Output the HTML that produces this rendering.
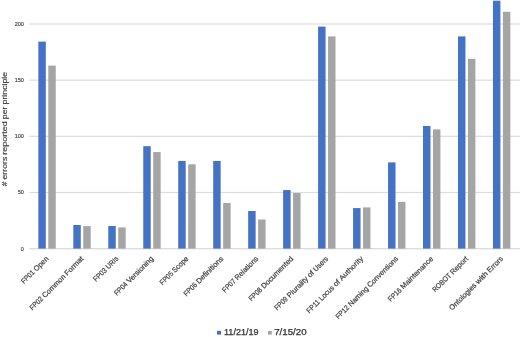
<!DOCTYPE html>
<html lang="en"><head><meta charset="utf-8"><title>Errors reported per principle</title>
<style>html,body{margin:0;padding:0;background:#fff}body{width:520px;height:337px;overflow:hidden}svg{display:block;filter:blur(0.3px)}</style></head>
<body>
<svg width="520" height="337" viewBox="0 0 520 337" font-family="'Liberation Sans', Arial, sans-serif">
<rect width="520" height="337" fill="#fff"/>
<rect x="29.5" y="191.89" width="490.5" height="1.2" fill="#dcdcdc"/>
<rect x="29.5" y="135.72" width="490.5" height="1.2" fill="#dcdcdc"/>
<rect x="29.5" y="79.56" width="490.5" height="1.2" fill="#dcdcdc"/>
<rect x="29.5" y="23.39" width="490.5" height="1.2" fill="#dcdcdc"/>
<rect x="29.5" y="248.20" width="490.5" height="1.1" fill="#d4d4d4"/>
<rect x="38.35" y="41.60" width="7.45" height="207.00" fill="#4472c4"/>
<rect x="48.30" y="65.60" width="7.45" height="183.00" fill="#a5a5a5"/>
<rect x="73.32" y="225.00" width="7.45" height="23.60" fill="#4472c4"/>
<rect x="83.27" y="226.10" width="7.45" height="22.50" fill="#a5a5a5"/>
<rect x="108.29" y="226.00" width="7.45" height="22.60" fill="#4472c4"/>
<rect x="118.24" y="227.40" width="7.45" height="21.20" fill="#a5a5a5"/>
<rect x="143.26" y="146.20" width="7.45" height="102.40" fill="#4472c4"/>
<rect x="153.21" y="152.10" width="7.45" height="96.50" fill="#a5a5a5"/>
<rect x="178.23" y="160.95" width="7.45" height="87.65" fill="#4472c4"/>
<rect x="188.18" y="164.30" width="7.45" height="84.30" fill="#a5a5a5"/>
<rect x="213.20" y="160.95" width="7.45" height="87.65" fill="#4472c4"/>
<rect x="223.15" y="203.00" width="7.45" height="45.60" fill="#a5a5a5"/>
<rect x="248.17" y="211.00" width="7.45" height="37.60" fill="#4472c4"/>
<rect x="258.12" y="219.50" width="7.45" height="29.10" fill="#a5a5a5"/>
<rect x="283.14" y="190.06" width="7.45" height="58.54" fill="#4472c4"/>
<rect x="293.09" y="193.00" width="7.45" height="55.60" fill="#a5a5a5"/>
<rect x="318.11" y="26.60" width="7.45" height="222.00" fill="#4472c4"/>
<rect x="328.06" y="36.40" width="7.45" height="212.20" fill="#a5a5a5"/>
<rect x="353.08" y="208.10" width="7.45" height="40.50" fill="#4472c4"/>
<rect x="363.03" y="207.40" width="7.45" height="41.20" fill="#a5a5a5"/>
<rect x="388.05" y="162.40" width="7.45" height="86.20" fill="#4472c4"/>
<rect x="398.00" y="201.85" width="7.45" height="46.75" fill="#a5a5a5"/>
<rect x="423.02" y="126.00" width="7.45" height="122.60" fill="#4472c4"/>
<rect x="432.97" y="129.40" width="7.45" height="119.20" fill="#a5a5a5"/>
<rect x="457.99" y="36.40" width="7.45" height="212.20" fill="#4472c4"/>
<rect x="467.94" y="58.80" width="7.45" height="189.80" fill="#a5a5a5"/>
<rect x="492.96" y="0.70" width="7.45" height="247.90" fill="#4472c4"/>
<rect x="502.91" y="11.80" width="7.45" height="236.80" fill="#a5a5a5"/>
<text x="20.86" y="250.60" font-size="5.4" textLength="3.04" lengthAdjust="spacingAndGlyphs" fill="#3c3c3c" stroke="#3c3c3c" stroke-width="0.15">0</text>
<text x="17.82" y="194.44" font-size="5.4" textLength="6.08" lengthAdjust="spacingAndGlyphs" fill="#3c3c3c" stroke="#3c3c3c" stroke-width="0.15">50</text>
<text x="14.77" y="138.27" font-size="5.4" textLength="9.13" lengthAdjust="spacingAndGlyphs" fill="#3c3c3c" stroke="#3c3c3c" stroke-width="0.15">100</text>
<text x="14.77" y="82.11" font-size="5.4" textLength="9.13" lengthAdjust="spacingAndGlyphs" fill="#3c3c3c" stroke="#3c3c3c" stroke-width="0.15">150</text>
<text x="14.77" y="25.94" font-size="5.4" textLength="9.13" lengthAdjust="spacingAndGlyphs" fill="#3c3c3c" stroke="#3c3c3c" stroke-width="0.15">200</text>
<text transform="translate(7.35,186.20) rotate(-90)" font-size="7.7" fill="#3c3c3c" stroke="#3c3c3c" stroke-width="0.15"><tspan x="0.00" textLength="4.60" lengthAdjust="spacingAndGlyphs">#</tspan> <tspan x="6.69" textLength="22.77" lengthAdjust="spacingAndGlyphs">errors</tspan> <tspan x="31.55" textLength="33.34" lengthAdjust="spacingAndGlyphs">reported</tspan> <tspan x="66.98" textLength="12.68" lengthAdjust="spacingAndGlyphs">per</tspan> <tspan x="81.75" textLength="32.65" lengthAdjust="spacingAndGlyphs">principle</tspan></text>
<text transform="translate(23.96,284.24) rotate(-45)" font-size="7.4" fill="#3c3c3c" stroke="#3c3c3c" stroke-width="0.2"><tspan x="0.00" textLength="15.92" lengthAdjust="spacingAndGlyphs">FP01</tspan> <tspan x="17.73" textLength="17.68" lengthAdjust="spacingAndGlyphs">Open</tspan></text>
<text transform="translate(32.49,310.68) rotate(-45)" font-size="7.4" fill="#3c3c3c" stroke="#3c3c3c" stroke-width="0.2"><tspan x="0.00" textLength="15.92" lengthAdjust="spacingAndGlyphs">FP02</tspan> <tspan x="17.73" textLength="29.68" lengthAdjust="spacingAndGlyphs">Common</tspan> <tspan x="49.22" textLength="23.58" lengthAdjust="spacingAndGlyphs">Format</tspan></text>
<text transform="translate(96.06,282.08) rotate(-45)" font-size="7.4" fill="#3c3c3c" stroke="#3c3c3c" stroke-width="0.2"><tspan x="0.00" textLength="15.92" lengthAdjust="spacingAndGlyphs">FP03</tspan> <tspan x="17.73" textLength="14.62" lengthAdjust="spacingAndGlyphs">URIs</tspan></text>
<text transform="translate(116.99,296.12) rotate(-45)" font-size="7.4" fill="#3c3c3c" stroke="#3c3c3c" stroke-width="0.2"><tspan x="0.00" textLength="15.92" lengthAdjust="spacingAndGlyphs">FP04</tspan> <tspan x="17.73" textLength="34.49" lengthAdjust="spacingAndGlyphs">Versioning</tspan></text>
<text transform="translate(162.59,285.49) rotate(-45)" font-size="7.4" fill="#3c3c3c" stroke="#3c3c3c" stroke-width="0.2"><tspan x="0.00" textLength="15.92" lengthAdjust="spacingAndGlyphs">FP05</tspan> <tspan x="17.73" textLength="19.46" lengthAdjust="spacingAndGlyphs">Scope</tspan></text>
<text transform="translate(186.38,296.67) rotate(-45)" font-size="7.4" fill="#3c3c3c" stroke="#3c3c3c" stroke-width="0.2"><tspan x="0.00" textLength="15.92" lengthAdjust="spacingAndGlyphs">FP06</tspan> <tspan x="17.73" textLength="35.26" lengthAdjust="spacingAndGlyphs">Definitions</tspan></text>
<text transform="translate(225.04,292.98) rotate(-45)" font-size="7.4" fill="#3c3c3c" stroke="#3c3c3c" stroke-width="0.2"><tspan x="0.00" textLength="15.92" lengthAdjust="spacingAndGlyphs">FP07</tspan> <tspan x="17.73" textLength="30.05" lengthAdjust="spacingAndGlyphs">Relations</tspan></text>
<text transform="translate(251.44,301.55) rotate(-45)" font-size="7.4" fill="#3c3c3c" stroke="#3c3c3c" stroke-width="0.2"><tspan x="0.00" textLength="15.92" lengthAdjust="spacingAndGlyphs">FP08</tspan> <tspan x="17.73" textLength="42.16" lengthAdjust="spacingAndGlyphs">Documented</tspan></text>
<text transform="translate(277.19,310.77) rotate(-45)" font-size="7.4" fill="#3c3c3c" stroke="#3c3c3c" stroke-width="0.2"><tspan x="0.00" textLength="15.92" lengthAdjust="spacingAndGlyphs">FP09</tspan> <tspan x="17.73" textLength="26.76" lengthAdjust="spacingAndGlyphs">Plurality</tspan> <tspan x="46.30" textLength="6.66" lengthAdjust="spacingAndGlyphs">of</tspan> <tspan x="54.76" textLength="18.17" lengthAdjust="spacingAndGlyphs">Users</tspan></text>
<text transform="translate(309.18,313.75) rotate(-45)" font-size="7.4" fill="#3c3c3c" stroke="#3c3c3c" stroke-width="0.2"><tspan x="0.00" textLength="15.92" lengthAdjust="spacingAndGlyphs">FP11</tspan> <tspan x="17.73" textLength="18.29" lengthAdjust="spacingAndGlyphs">Locus</tspan> <tspan x="37.82" textLength="6.66" lengthAdjust="spacingAndGlyphs">of</tspan> <tspan x="46.29" textLength="30.86" lengthAdjust="spacingAndGlyphs">Authority</tspan></text>
<text transform="translate(338.41,319.49) rotate(-45)" font-size="7.4" fill="#3c3c3c" stroke="#3c3c3c" stroke-width="0.2"><tspan x="0.00" textLength="15.92" lengthAdjust="spacingAndGlyphs">FP12</tspan> <tspan x="17.73" textLength="25.19" lengthAdjust="spacingAndGlyphs">Naming</tspan> <tspan x="44.73" textLength="40.54" lengthAdjust="spacingAndGlyphs">Conventions</tspan></text>
<text transform="translate(390.75,302.12) rotate(-45)" font-size="7.4" fill="#3c3c3c" stroke="#3c3c3c" stroke-width="0.2"><tspan x="0.00" textLength="15.92" lengthAdjust="spacingAndGlyphs">FP16</tspan> <tspan x="17.73" textLength="42.97" lengthAdjust="spacingAndGlyphs">Maintenance</tspan></text>
<text transform="translate(435.26,292.58) rotate(-45)" font-size="7.4" fill="#3c3c3c" stroke="#3c3c3c" stroke-width="0.2"><tspan x="0.00" textLength="23.18" lengthAdjust="spacingAndGlyphs">ROBOT</tspan> <tspan x="24.99" textLength="22.22" lengthAdjust="spacingAndGlyphs">Report</tspan></text>
<text transform="translate(452.12,310.69) rotate(-45)" font-size="7.4" fill="#3c3c3c" stroke="#3c3c3c" stroke-width="0.2"><tspan x="0.00" textLength="35.15" lengthAdjust="spacingAndGlyphs">Ontologies</tspan> <tspan x="36.96" textLength="14.43" lengthAdjust="spacingAndGlyphs">with</tspan> <tspan x="53.20" textLength="19.62" lengthAdjust="spacingAndGlyphs">Errors</tspan></text>
<rect x="217" y="330.8" width="4" height="3.8" fill="#4472c4"/>
<text x="224" y="335" font-size="8.5" textLength="34.6" lengthAdjust="spacingAndGlyphs" fill="#333" stroke="#333" stroke-width="0.25">11/21/19</text>
<rect x="268" y="330.8" width="3.8" height="3.8" fill="#a5a5a5"/>
<text x="274.2" y="335" font-size="8.5" textLength="32.4" lengthAdjust="spacingAndGlyphs" fill="#333" stroke="#333" stroke-width="0.25">7/15/20</text>
</svg>
</body></html>
